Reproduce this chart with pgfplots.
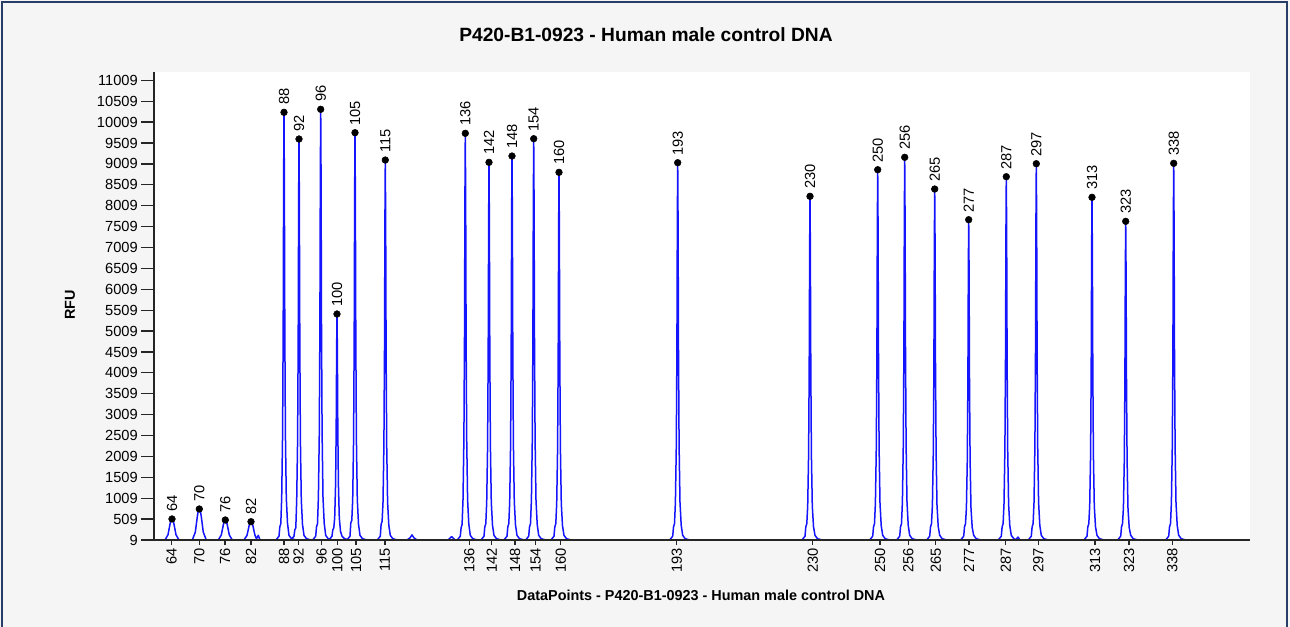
\documentclass[border=0pt]{standalone}
\usepackage{pgfplots}
\pgfplotsset{compat=1.18}
\usepackage{fontspec}
\setmainfont{Liberation Sans}
\newlength\px
\setlength\px{0.75pt}
\definecolor{bgc}{RGB}{245,245,245}
\definecolor{framec}{RGB}{40,62,105}
\definecolor{trace}{RGB}{20,20,255}
\begin{document}
\begin{tikzpicture}
\useasboundingbox (0,0) rectangle (1290\px,627\px);
\fill[bgc] (0,0) rectangle (1290\px,627\px);
\draw[framec, line width=1.6\px] (2\px,-5\px) -- (2\px,625\px) -- (1287\px,625\px) -- (1287\px,-5\px);
\node[font=\bfseries\fontsize{14.4}{16}\selectfont] at (646\px,592\px) {P420-B1-0923 - Human male control DNA};
\node[font=\bfseries\fontsize{10.8}{12}\selectfont] at (701\px,32\px) {DataPoints - P420-B1-0923 - Human male control DNA};
\node[font=\bfseries\fontsize{10.8}{12}\selectfont, rotate=90] at (70\px,322\px) {RFU};
\begin{axis}[
  at={(154\px,87\px)}, anchor=south west,
  scale only axis, width=1096\px, height=468\px,
  xmin=154, xmax=1250, ymin=9, ymax=11209,
  axis x line=bottom, axis y line=left,
  axis line style={-, line width=1.3\px, black!85},
  axis background/.style={fill=white},
  scaled y ticks=false,
  ytick={9,509,...,11009},
  yticklabels={9,509,1009,1509,2009,2509,3009,3509,4009,4509,5009,5509,6009,6509,7009,7509,8009,8509,9009,9509,10009,10509,11009},
  xtick=\empty,
  tick align=outside,
  major tick length=13\px,
  tick style={line width=1.3\px, black!85},
  yticklabel style={font=\fontsize{11}{13}\selectfont, inner sep=3\px},
  clip=false,
  cycle list={trace,solid,line width=1.5\px,line join=round,mark=none\\},
]
% small peaks
\addplot coordinates {(165,9)(168,135)(169,261)(170,386)(171,487)(172,512)(173,487)(174,386)(175,261)(176,135)(179,9)};
\addplot coordinates {(192.3,9)(195.3,195)(196.3,380)(197.3,566)(198.3,714)(199.3,751)(200.3,714)(201.3,566)(202.3,380)(203.3,195)(206.3,9)};
\addplot coordinates {(218.3,9)(221.3,129)(222.3,249)(223.3,368)(224.3,464)(225.3,488)(226.3,464)(227.3,368)(228.3,249)(229.3,129)(232.3,9)};
\addplot coordinates {(244,9)(247,119)(248,228)(249,338)(250,425)(251,447)(252,425)(253,338)(254,228)(255,119)(256.5,40)(258.3,120)(260,9)};
% big peaks
\addplot coordinates {(276,9)(279,100)(279.8,320)(280.8,400)(281.7,1024)(282.6,2561)(283.2,5122)(283.65,8707)(284,10244)(284.35,8707)(284.8,5122)(285.4,2561)(286.3,1024)(287.5,410)(289,120)(291.5,40)(296,9)};
\addplot coordinates {(291,9)(294,100)(294.8,250)(295.8,300)(296.7,961)(297.6,2401)(298.2,4803)(298.65,8164)(299,9605)(299.35,8164)(299.8,4803)(300.4,2401)(301.3,961)(302.5,384)(304,120)(306.5,40)(311,9)};
\addplot coordinates {(312.7,9)(315.7,100)(316.5,320)(317.5,400)(318.4,1032)(319.3,2579)(319.9,5158)(320.35,8769)(320.7,10316)(321.05,8769)(321.5,5158)(322.1,2579)(323,1032)(324.2,413)(325.7,120)(328.2,40)(332.7,9)};
\addplot coordinates {(329,9)(332,100)(332.8,250)(333.8,300)(334.7,542)(335.6,1354)(336.2,2709)(336.65,4604)(337,5417)(337.35,4604)(337.8,2709)(338.4,1354)(339.3,542)(340.5,217)(342,100)(344.5,40)(349,9)};
\addplot coordinates {(347,9)(350,100)(350.8,420)(351.8,480)(352.7,976)(353.6,2439)(354.2,4878)(354.65,8293)(355,9756)(355.35,8293)(355.8,4878)(356.4,2439)(357.3,976)(358.5,390)(360,120)(362.5,40)(367,9)};
\addplot coordinates {(377.3,9)(380.3,100)(381.1,380)(382.1,450)(383,910)(383.9,2276)(384.5,4551)(384.95,7737)(385.3,9102)(385.65,7737)(386.1,4551)(386.7,2276)(387.6,910)(388.8,364)(390.3,120)(392.8,40)(397.3,9)};
\addplot coordinates {(407,9)(410,60)(412,130)(414,60)(417,9)};
\addplot coordinates {(448,9)(451.7,90)(455,9)};
\addplot coordinates {(457.3,9)(460.3,100)(461.1,300)(462.1,380)(463,974)(463.9,2435)(464.5,4871)(464.95,8280)(465.3,9741)(465.65,8280)(466.1,4871)(466.7,2435)(467.6,974)(468.8,390)(470.3,120)(472.8,40)(477.3,9)};
\addplot coordinates {(481,9)(484,100)(484.8,320)(485.8,400)(486.7,905)(487.6,2262)(488.2,4524)(488.65,7690)(489,9047)(489.35,7690)(489.8,4524)(490.4,2262)(491.3,905)(492.5,362)(494,120)(496.5,40)(501,9)};
\addplot coordinates {(504,9)(507,100)(507.8,320)(508.8,400)(509.7,920)(510.6,2300)(511.2,4599)(511.65,7818)(512,9198)(512.35,7818)(512.8,4599)(513.4,2300)(514.3,920)(515.5,368)(517,120)(519.5,40)(524,9)};
\addplot coordinates {(525.7,9)(528.7,100)(529.5,320)(530.5,400)(531.4,961)(532.3,2403)(532.9,4806)(533.35,8170)(533.7,9612)(534.05,8170)(534.5,4806)(535.1,2403)(536,961)(537.2,384)(538.7,120)(541.2,40)(545.7,9)};
\addplot coordinates {(551,9)(554,100)(554.8,320)(555.8,400)(556.7,881)(557.6,2202)(558.2,4404)(558.65,7487)(559,8808)(559.35,7487)(559.8,4404)(560.4,2202)(561.3,881)(562.5,352)(564,120)(566.5,40)(571,9)};
\addplot coordinates {(669.7,9)(672.7,100)(673.5,320)(674.5,400)(675.4,904)(676.3,2260)(676.9,4519)(677.35,7682)(677.7,9038)(678.05,7682)(678.5,4519)(679.1,2260)(680,904)(681.2,362)(682.7,120)(685.2,40)(689.7,9)};
\addplot coordinates {(802,9)(805,100)(805.8,320)(806.8,400)(807.7,823)(808.6,2059)(809.2,4117)(809.65,6999)(810,8234)(810.35,6999)(810.8,4117)(811.4,2059)(812.3,823)(813.5,329)(815,120)(817.5,40)(822,9)};
\addplot coordinates {(869.7,9)(872.7,100)(873.5,320)(874.5,400)(875.4,887)(876.3,2218)(876.9,4435)(877.35,7540)(877.7,8870)(878.05,7540)(878.5,4435)(879.1,2218)(880,887)(881.2,355)(882.7,120)(885.2,40)(889.7,9)};
\addplot coordinates {(896.7,9)(899.7,100)(900.5,320)(901.5,400)(902.4,917)(903.3,2292)(903.9,4584)(904.35,7792)(904.7,9167)(905.05,7792)(905.5,4584)(906.1,2292)(907,917)(908.2,367)(909.7,120)(912.2,40)(916.7,9)};
\addplot coordinates {(926.7,9)(929.7,100)(930.5,320)(931.5,400)(932.4,841)(933.3,2102)(933.9,4204)(934.35,7147)(934.7,8408)(935.05,7147)(935.5,4204)(936.1,2102)(937,841)(938.2,336)(939.7,120)(942.2,40)(946.7,9)};
\addplot coordinates {(960.7,9)(963.7,100)(964.5,320)(965.5,400)(966.4,767)(967.3,1919)(967.9,3837)(968.35,6523)(968.7,7674)(969.05,6523)(969.5,3837)(970.1,1919)(971,767)(972.2,307)(973.7,120)(976.2,40)(980.7,9)};
\addplot coordinates {(998.3,9)(1001.3,100)(1002.1,320)(1003.1,400)(1004,870)(1004.9,2176)(1005.5,4352)(1005.95,7398)(1006.3,8703)(1006.65,7398)(1007.1,4352)(1007.7,2176)(1008.6,870)(1009.8,348)(1011.3,120)(1013.8,40)(1016,20)(1018,80)(1020,9)};
\addplot coordinates {(1028.3,9)(1031.3,100)(1032.1,320)(1033.1,400)(1034,901)(1034.9,2254)(1035.5,4507)(1035.95,7662)(1036.3,9014)(1036.65,7662)(1037.1,4507)(1037.7,2254)(1038.6,901)(1039.8,361)(1041.3,120)(1043.8,40)(1048.3,9)};
\addplot coordinates {(1084,9)(1087,100)(1087.8,320)(1088.8,400)(1089.7,821)(1090.6,2053)(1091.2,4105)(1091.65,6979)(1092,8210)(1092.35,6979)(1092.8,4105)(1093.4,2053)(1094.3,821)(1095.5,328)(1097,120)(1099.5,40)(1104,9)};
\addplot coordinates {(1117.7,9)(1120.7,100)(1121.5,320)(1122.5,400)(1123.4,764)(1124.3,1909)(1124.9,3818)(1125.35,6490)(1125.7,7635)(1126.05,6490)(1126.5,3818)(1127.1,1909)(1128,764)(1129.2,305)(1130.7,120)(1133.2,40)(1137.7,9)};
\addplot coordinates {(1165.7,9)(1168.7,100)(1169.5,320)(1170.5,400)(1171.4,902)(1172.3,2256)(1172.9,4512)(1173.35,7670)(1173.7,9023)(1174.05,7670)(1174.5,4512)(1175.1,2256)(1176,902)(1177.2,361)(1178.7,120)(1181.2,40)(1185.7,9)};
% peak markers with labels
\addplot[only marks, mark=*, mark size=2.5pt, black, mark options={fill=black, draw=black},
  nodes near coords, point meta=explicit symbolic,
  every node near coord/.style={black, font=\fontsize{11}{13}\selectfont, rotate=90, anchor=west, inner sep=0pt, outer sep=5.5pt}]
  table[meta=label] {
x y label
172 512 64
199.3 751 70
225.3 488 76
251 447 82
284 10244 88
299 9605 92
320.7 10316 96
337 5417 100
355 9756 105
385.3 9102 115
465.3 9741 136
489 9047 142
512 9198 148
533.7 9612 154
559 8808 160
677.7 9038 193
810 8234 230
877.7 8870 250
904.7 9167 256
934.7 8408 265
968.7 7674 277
1006.3 8703 287
1036.3 9014 297
1092 8210 313
1125.7 7635 323
1173.7 9023 338
};
\end{axis}
\begin{axis}[
  at={(154\px,87\px)}, anchor=south west,
  scale only axis, width=1096\px, height=468\px,
  xmin=154, xmax=1250, ymin=9, ymax=11209,
  axis x line=bottom, axis y line=none,
  axis line style={-, line width=1.3\px, black!85},
  xtick={171.7,199.3,225,251,284,298.7,321.7,337.3,356,385,469.3,491.7,515,535.7,560.7,676.7,812.7,880,908.3,935.7,969,1005.7,1038.3,1095,1129,1172.3},
  xticklabels={64,70,76,82,88,92,96,100,105,115,136,142,148,154,160,193,230,250,256,265,277,287,297,313,323,338},
  tick align=outside,
  major tick length=5\px,
  tick style={line width=1.3\px, black!85},
  xticklabel style={font=\fontsize{11}{13}\selectfont, rotate=90, anchor=east, inner sep=3\px},
]
\addplot[draw=none] coordinates {(154,9)};
\end{axis}
\end{tikzpicture}
\end{document}
